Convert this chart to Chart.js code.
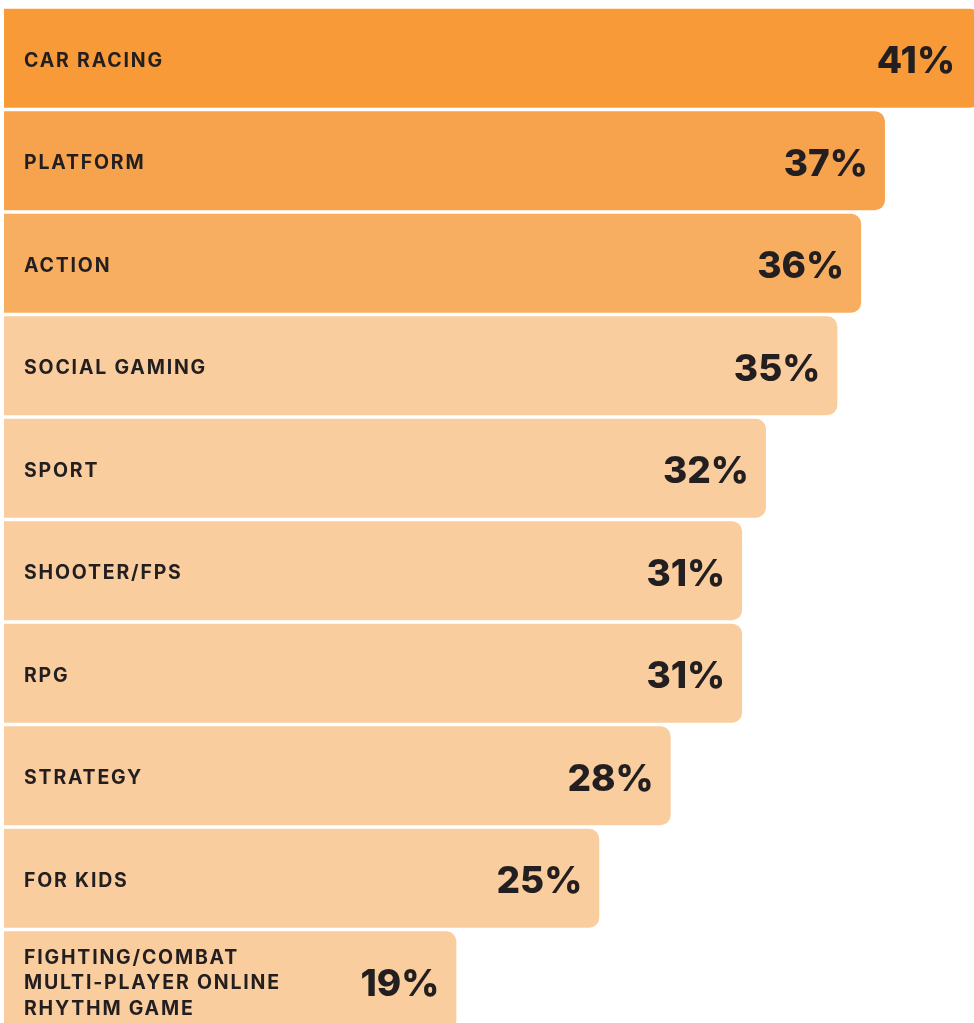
<!DOCTYPE html>
<html>
<head>
<meta charset="utf-8">
<title>Favourite game genres</title>
<script src="https://cdn.jsdelivr.net/npm/chart.js@4.4.1/dist/chart.umd.min.js"></script>
<style>
  html, body { margin: 0; padding: 0; background: #fff; overflow: hidden; }
  #wrap { position: absolute; left: 0; top: 0; width: 1012px; height: 1040px; }
</style>
</head>
<body>
<div id="wrap"><canvas id="genreChart" width="1012" height="1040"></canvas></div>
<script>
// genres, top to bottom; multi-line names are arrays
const genres = [
  'CAR RACING',
  'PLATFORM',
  'ACTION',
  'SOCIAL GAMING',
  'SPORT',
  'SHOOTER/FPS',
  'RPG',
  'STRATEGY',
  'FOR KIDS',
  ['FIGHTING/COMBAT', 'MULTI-PLAYER ONLINE', 'RHYTHM GAME']
];
const shares = [41, 37, 36, 35, 32, 31, 31, 28, 25, 19];
const barColors = [
  '#F79A37', '#F7A34D', '#F8AE60',
  '#F9CD9E', '#F9CD9E', '#F9CD9E', '#F9CD9E', '#F9CD9E', '#F9CD9E', '#F9CD9E'
];

const TEXT = '#231F20';

// names on the left and percentages at the end of each bar
const barLabels = {
  id: 'barLabels',
  afterDatasetsDraw(chart) {
    const ctx = chart.ctx;
    const meta = chart.getDatasetMeta(0);
    ctx.save();
    ctx.fillStyle = TEXT;
    ctx.textBaseline = 'alphabetic';
    meta.data.forEach((bar, i) => {
      const cy = bar.y;
      // category name
      ctx.font = '700 19.5px Inter';
      ctx.letterSpacing = '1.8px';
      ctx.textAlign = 'left';
      const lines = Array.isArray(genres[i]) ? genres[i] : [genres[i]];
      const lh = 25.5;
      const first = cy + 8.5 - (lines.length - 1) * lh / 2;
      lines.forEach((ln, k) => ctx.fillText(ln, 24, first + k * lh));
      // value; the top bar runs off the page, so keep its number in view
      ctx.font = '800 37px Inter';
      ctx.letterSpacing = '0px';
      ctx.textAlign = 'right';
      const right = Math.min(bar.x, 972) - 17;
      ctx.fillText(shares[i] + '%', right, cy + 15);
    });
    ctx.restore();
  }
};

new Chart(document.getElementById('genreChart'), {
  type: 'bar',
  data: {
    labels: genres,
    datasets: [{
      data: shares,
      backgroundColor: barColors,
      borderWidth: 0,
      borderRadius: { topRight: 10, bottomRight: 10, topLeft: 0, bottomLeft: 0 },
      borderSkipped: false,
      categoryPercentage: 1,
      barPercentage: 0.966
    }]
  },
  options: {
    indexAxis: 'y',
    responsive: false,
    animation: false,
    devicePixelRatio: 1,
    layout: { padding: { left: 4, right: 8, top: 7, bottom: 8 } },
    scales: {
      x: { display: false, min: 0, max: 42 },
      y: { display: false }
    },
    plugins: {
      legend: { display: false },
      tooltip: { enabled: false }
    }
  },
  plugins: [barLabels]
});
</script>
</body>
</html>
